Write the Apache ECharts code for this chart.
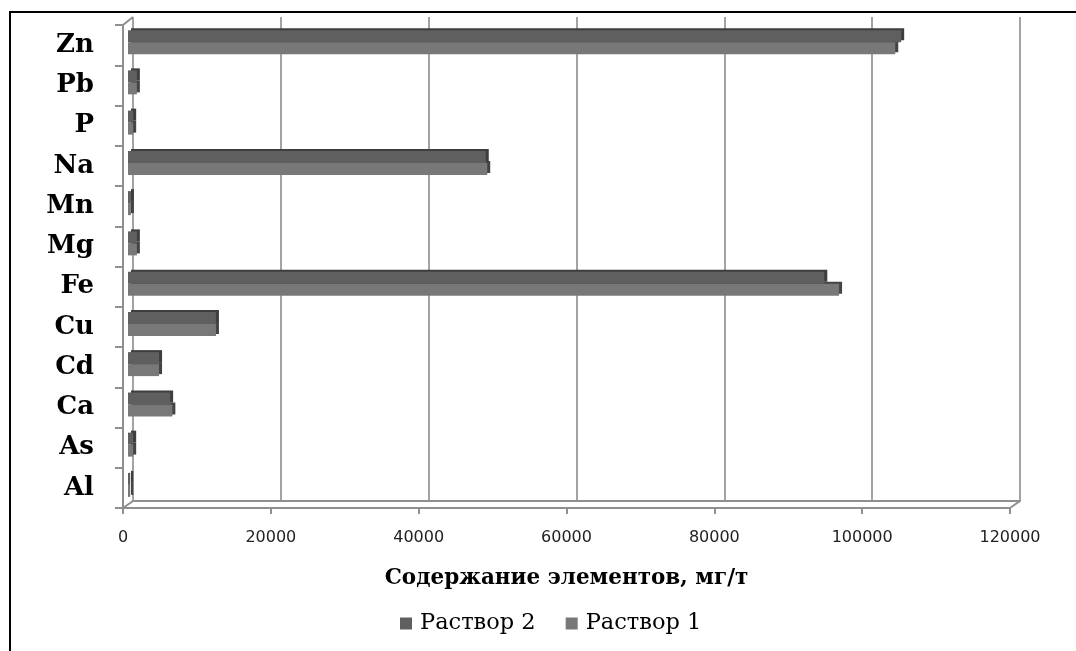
<!DOCTYPE html>
<html>
<head>
<meta charset="utf-8">
<script src="https://cdn.jsdelivr.net/npm/echarts@6/dist/echarts.min.js"></script>
<style>
  html, body { margin: 0; padding: 0; background: #fff; }
  #wrap { position: relative; width: 1076px; height: 651px; overflow: hidden; }
  #frame { position: absolute; left: 9px; top: 11px; width: 1100px; height: 700px; border: 2px solid #000; box-sizing: border-box; }
  #chart { position: absolute; left: 0; top: 0; width: 1076px; height: 651px; }
</style>
</head>
<body>
<div id="wrap">
  <div id="frame"></div>
  <div id="chart"></div>
</div>
<script>
// данные (снизу вверх по оси категорий)
const elements = ['Al', 'As', 'Ca', 'Cd', 'Cu', 'Fe', 'Mg', 'Mn', 'Na', 'P', 'Pb', 'Zn']
const rastvor2 = [300, 700, 5700, 4200, 11900, 94200, 1200, 400, 48400, 700, 1200, 104600]
const rastvor1 = [300, 700, 6000, 4200, 11900, 96200, 1200, 400, 48600, 700, 1200, 103800]
const xTicks = { min: 0, max: 120000, interval: 20000 }
const seriesNames = ['Раствор 2', 'Раствор 1']

// передняя плоскость, задняя стенка и средняя плоскость (столбцы)
const front = { left: 123, right: 1010, top: 25, bottom: 508 }
const back = { left: 133, right: 1020, top: 17, bottom: 501 }
const mid = { left: 128, right: 1015, top: 22, bottom: 505 }

const gridOf = (r) => ({ left: r.left, width: r.right - r.left, top: r.top, height: r.bottom - r.top })
const lineGray = '#8f8f8f'
const serif = 'DejaVu Serif'

const chart = echarts.init(document.getElementById('chart'))

const option = {
  backgroundColor: 'transparent',
  animation: false,
  grid: [gridOf(front), gridOf(back), gridOf(mid)],
  legend: {
    data: seriesNames,
    top: 607,
    left: 395,
    icon: 'rect',
    itemWidth: 12,
    itemHeight: 12,
    itemGap: 30,
    itemStyle: { shadowColor: 'rgba(0,0,0,0)', shadowOffsetX: 0, shadowOffsetY: 0 },
    textStyle: { fontFamily: serif, fontSize: 22.5, color: '#000', padding: [0, 0, 0, 3] }
  },
  xAxis: [
    {
      gridIndex: 0,
      type: 'value',
      min: xTicks.min,
      max: xTicks.max,
      interval: xTicks.interval,
      name: 'Содержание элементов, мг/т',
      nameLocation: 'middle',
      nameGap: 59,
      nameTextStyle: { fontFamily: serif, fontWeight: 'bold', fontSize: 21.5, color: '#000' },
      axisLine: { show: true, lineStyle: { color: lineGray, width: 2 } },
      axisTick: { show: true, length: 6, lineStyle: { color: lineGray, width: 2 } },
      axisLabel: { fontFamily: 'DejaVu Sans', fontSize: 16, color: '#222', margin: 22, formatter: v => String(v) },
      splitLine: { show: false }
    },
    {
      gridIndex: 1,
      type: 'value',
      min: xTicks.min,
      max: xTicks.max,
      interval: xTicks.interval,
      axisLine: { show: true, lineStyle: { color: lineGray, width: 2 } },
      axisTick: { show: false },
      axisLabel: { show: false },
      splitLine: { show: true, lineStyle: { color: '#a3a3a3', width: 2 } }
    },
    {
      gridIndex: 2,
      type: 'value',
      min: xTicks.min,
      max: xTicks.max,
      show: false
    }
  ],
  yAxis: [
    {
      gridIndex: 0,
      type: 'category',
      data: elements,
      axisLine: { show: true, lineStyle: { color: lineGray, width: 2 } },
      axisTick: { show: true, length: 8, lineStyle: { color: lineGray, width: 2 } },
      axisLabel: { fontFamily: serif, fontWeight: 'bold', fontSize: 26, color: '#000', margin: 29 }
    },
    { gridIndex: 1, type: 'category', data: elements, show: false },
    { gridIndex: 2, type: 'category', data: elements, show: false }
  ],
  series: [
    {
      name: seriesNames[0],
      type: 'bar',
      xAxisIndex: 2,
      yAxisIndex: 2,
      data: rastvor2,
      barWidth: 12,
      barGap: '0%',
      z: 4,
      itemStyle: { color: '#5f5f5f', shadowColor: '#3e3e3e', shadowOffsetX: 3, shadowOffsetY: -2, shadowBlur: 0 }
    },
    {
      name: seriesNames[1],
      type: 'bar',
      xAxisIndex: 2,
      yAxisIndex: 2,
      data: rastvor1,
      barWidth: 12,
      barGap: '0%',
      z: 3,
      itemStyle: { color: '#787878', shadowColor: '#444444', shadowOffsetX: 3, shadowOffsetY: -2, shadowBlur: 0 }
    }
  ],
  // диагонали 3D-рамки
  graphic: [
    [front.left, front.top, back.left, back.top],
    [front.left, front.bottom, back.left, back.bottom],
    [front.right, front.bottom, back.right, back.bottom]
  ].map(p => ({
    type: 'line',
    z: 1,
    shape: { x1: p[0], y1: p[1], x2: p[2], y2: p[3] },
    style: { stroke: lineGray, lineWidth: 2 }
  }))
}

chart.setOption(option)
</script>
</body>
</html>
